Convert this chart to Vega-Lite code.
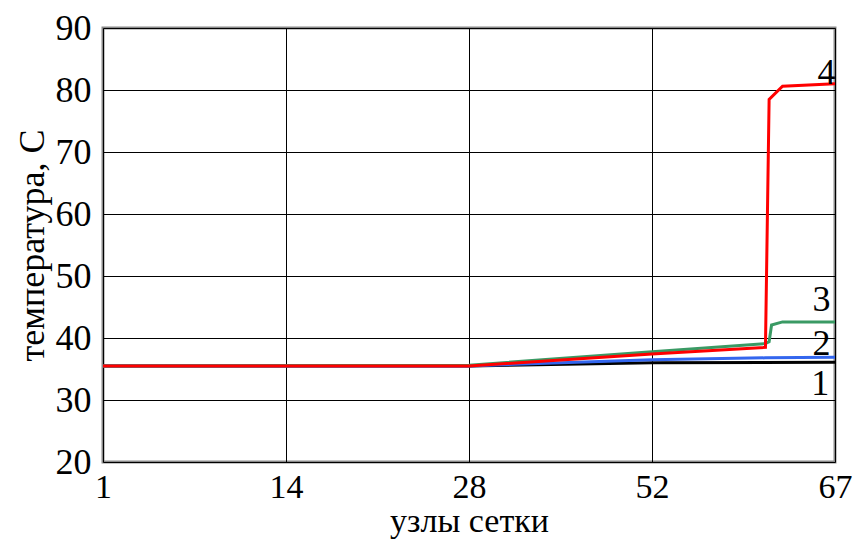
{
  "$schema": "https://vega.github.io/schema/vega-lite/v6.json",
  "width": 732,
  "height": 434,
  "autosize": "none",
  "padding": {"left": 103, "top": 28, "right": 18, "bottom": 79},
  "background": "white",
  "config": {
    "view": {"stroke": "#8a8a8a", "strokeWidth": 3},
    "font": "Liberation Serif"
  },
  "datasets": {
    "lines": [
      {"series": "1", "node": 1, "temp": 35.5},
      {"series": "1", "node": 28, "temp": 35.5},
      {"series": "1", "node": 52, "temp": 36.0},
      {"series": "1", "node": 67, "temp": 36.1},
      {"series": "2", "node": 1, "temp": 35.5},
      {"series": "2", "node": 28, "temp": 35.5},
      {"series": "2", "node": 52, "temp": 36.5},
      {"series": "2", "node": 61.3, "temp": 36.8},
      {"series": "2", "node": 67, "temp": 36.9},
      {"series": "3", "node": 1, "temp": 35.5},
      {"series": "3", "node": 28, "temp": 35.6},
      {"series": "3", "node": 52, "temp": 37.8},
      {"series": "3", "node": 61.3, "temp": 39.1},
      {"series": "3", "node": 61.6, "temp": 39.4},
      {"series": "3", "node": 61.8, "temp": 42.1},
      {"series": "3", "node": 62.7, "temp": 42.6},
      {"series": "3", "node": 67, "temp": 42.6},
      {"series": "4", "node": 1, "temp": 35.5},
      {"series": "4", "node": 28, "temp": 35.5},
      {"series": "4", "node": 52, "temp": 37.4},
      {"series": "4", "node": 61.3, "temp": 38.5},
      {"series": "4", "node": 61.6, "temp": 78.5},
      {"series": "4", "node": 62.7, "temp": 80.6},
      {"series": "4", "node": 67, "temp": 81.0}
    ],
    "labels": [
      {"label": "1", "node": 65.8, "temp": 32.6},
      {"label": "2", "node": 65.9, "temp": 39.0},
      {"label": "3", "node": 65.9, "temp": 46.1},
      {"label": "4", "node": 66.3, "temp": 82.7}
    ]
  },
  "layer": [
    {
      "data": {"name": "lines"},
      "mark": {"type": "line", "strokeWidth": 3, "interpolate": "linear"},
      "encoding": {
        "x": {
          "field": "node", "type": "quantitative",
          "scale": {"type": "linear", "domain": [1, 14, 28, 52, 67], "range": [0, 183, 366, 549, 732], "nice": false, "zero": false},
          "axis": {
            "values": [1, 14, 28, 52, 67],
            "title": "узлы сетки",
            "titleFont": "Liberation Serif", "titleFontSize": 34, "titleFontWeight": "normal", "titleColor": "#000",
            "titlePadding": 0,
            "labelFont": "Liberation Serif", "labelFontSize": 34, "labelColor": "#000",
            "labelPadding": 8, "labelFlush": false, "labelOverlap": false,
            "ticks": false, "domain": false,
            "grid": true, "gridColor": "#000", "gridWidth": 1, "gridOpacity": 1
          }
        },
        "y": {
          "field": "temp", "type": "quantitative",
          "scale": {"domain": [20, 90], "nice": false, "zero": false},
          "axis": {
            "values": [20, 30, 40, 50, 60, 70, 80, 90],
            "title": "температура, С",
            "titleFont": "Liberation Serif", "titleFontSize": 36, "titleFontWeight": "normal", "titleColor": "#000",
            "titlePadding": 4,
            "labelFont": "Liberation Serif", "labelFontSize": 36, "labelColor": "#000",
            "labelPadding": 12, "labelFlush": false, "labelOverlap": false,
            "ticks": false, "domain": false,
            "grid": true, "gridColor": "#000", "gridWidth": 1, "gridOpacity": 1
          }
        },
        "color": {
          "field": "series", "type": "nominal",
          "scale": {"domain": ["1", "2", "3", "4"], "range": ["#000000", "#3366ee", "#3a9a64", "#ff0000"]},
          "legend": null
        }
      }
    },
    {
      "data": {"name": "labels"},
      "mark": {"type": "text", "font": "Liberation Serif", "fontSize": 36, "color": "#000", "baseline": "middle", "align": "center"},
      "encoding": {
        "x": {"field": "node", "type": "quantitative"},
        "y": {"field": "temp", "type": "quantitative"},
        "text": {"field": "label"}
      }
    }
  ]
}
